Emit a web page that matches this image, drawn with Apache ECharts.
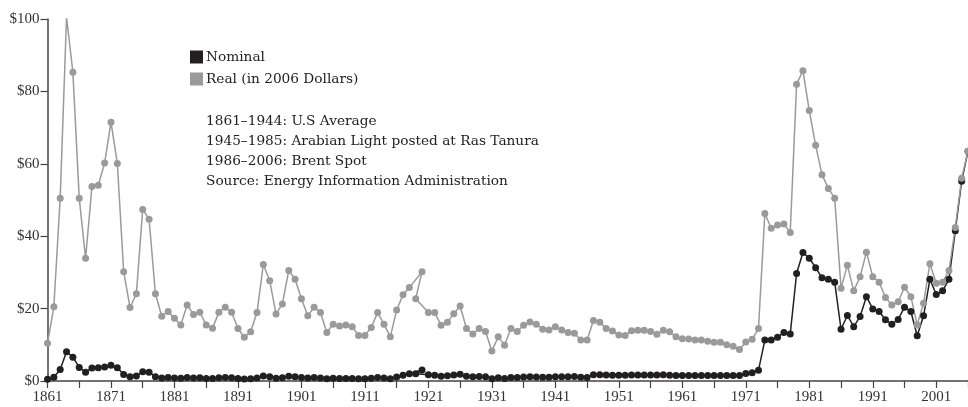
<!DOCTYPE html>
<html>
<head>
<meta charset="utf-8">
<script src="https://cdn.jsdelivr.net/npm/echarts@6/dist/echarts.min.js"></script>
<style>
html,body{margin:0;padding:0;background:#fff;}
#chart{width:968px;height:407px;}
</style>
</head>
<body>
<div id="chart"></div>
<script>
// Years in the order the points are drawn (the source plots 1920 before 1919)
var years = [
  1861,1862,1863,1864,1865,1866,1867,1868,1869,1870,
  1871,1872,1873,1874,1875,1876,1877,1878,1879,1880,
  1881,1882,1883,1884,1885,1886,1887,1888,1889,1890,
  1891,1892,1893,1894,1895,1896,1897,1898,1899,1900,
  1901,1902,1903,1904,1905,1906,1907,1908,1909,1910,
  1911,1912,1913,1914,1915,1916,1917,1918,1920,1919,
  1921,1922,1923,1924,1925,1926,1927,1928,1929,1930,
  1931,1932,1933,1934,1935,1936,1937,1938,1939,1940,
  1941,1942,1943,1944,1945,1946,1947,1948,1949,1950,
  1951,1952,1953,1954,1955,1956,1957,1958,1959,1960,
  1961,1962,1963,1964,1965,1966,1967,1968,1969,1970,
  1971,1972,1973,1974,1975,1976,1977,1978,1979,1980,
  1981,1982,1983,1984,1985,1986,1987,1988,1989,1990,
  1991,1992,1993,1994,1995,1996,1997,1998,1999,2000,
  2001,2002,2003,2004,2005,2006
];

var nominal = [
  0.49,1.05,3.15,8.06,6.59,3.74,2.41,3.62,3.64,3.86,
  4.34,3.64,1.83,1.17,1.35,2.56,2.42,1.19,0.86,0.95,
  0.86,0.78,1.00,0.84,0.88,0.71,0.67,0.88,0.94,0.87,
  0.67,0.56,0.64,0.84,1.36,1.18,0.79,0.91,1.29,1.19,
  0.96,0.80,0.94,0.86,0.62,0.73,0.72,0.72,0.70,0.61,
  0.61,0.74,0.95,0.81,0.64,1.10,1.56,1.98,3.07,2.01,
  1.73,1.61,1.34,1.43,1.68,1.88,1.30,1.17,1.27,1.19,
  0.65,0.87,0.67,1.00,0.97,1.09,1.18,1.13,1.02,1.02,
  1.14,1.19,1.20,1.21,1.05,0.95,1.70,1.75,1.65,1.60,
  1.60,1.60,1.65,1.65,1.65,1.65,1.65,1.70,1.60,1.55,
  1.55,1.55,1.55,1.55,1.55,1.55,1.55,1.55,1.55,1.55,
  2.10,2.30,3.00,11.3,11.3,12.1,13.4,13.0,29.7,35.5,
  33.9,31.3,28.5,28.1,27.3,14.3,18.1,15.0,17.8,23.3,
  19.9,19.2,16.9,15.7,17.0,20.4,19.2,12.5,18.0,28.1,
  23.9,24.9,28.1,41.5,55.2,63.5
];

var real = [
  10.4,20.5,50.5,100.5,85.3,50.5,33.9,53.7,54.1,60.2,
  71.5,60.1,30.2,20.3,24.1,47.4,44.7,24.1,17.9,19.2,
  17.3,15.5,21.0,18.4,19.0,15.5,14.6,19.0,20.4,19.0,
  14.5,12.1,13.6,18.9,32.2,27.7,18.5,21.3,30.5,28.1,
  22.7,18.0,20.4,18.9,13.4,15.7,15.2,15.5,15.0,12.6,
  12.6,14.8,18.9,15.7,12.2,19.6,23.8,25.8,30.2,22.7,
  18.9,18.9,15.4,16.2,18.6,20.7,14.5,13.0,14.5,13.7,
  8.3,12.2,9.9,14.5,13.7,15.4,16.3,15.7,14.3,14.1,
  15.0,14.1,13.4,13.2,11.3,11.3,16.7,16.2,14.5,13.8,
  12.7,12.6,13.9,14.0,14.0,13.7,12.9,14.0,13.6,12.2,
  11.7,11.6,11.3,11.3,11.0,10.7,10.7,10.0,9.6,8.7,
  10.8,11.5,14.5,46.3,42.2,43.1,43.4,41.0,82.0,85.7,
  74.7,65.1,57.0,53.2,50.5,25.6,32.0,24.9,28.8,35.6,
  28.8,27.3,23.1,21.0,21.9,25.9,23.3,15.5,21.5,32.4,
  27.0,27.3,30.5,42.4,56.0,63.5
];

var seriesNames = ['Nominal', 'Real (in 2006 Dollars)'];
var xTickYears = [1861,1866,1871,1876,1881,1886,1891,1896,1901,1906,1911,1916,1921,1926,1931,1936,1941,1946,1951,1956,1961,1966,1971,1976,1981,1986,1991,1996,2001,2006];
var xLabelYears = [1861,1871,1881,1891,1901,1911,1921,1931,1941,1951,1961,1971,1981,1991,2001];
var yTicks = [0,20,40,60,80,100];
var notes = [
  '1861\u20131944: U.S Average',
  '1945\u20131985: Arabian Light posted at Ras Tanura',
  '1986\u20132006: Brent Spot',
  'Source: Energy Information Administration'
];

function pairs(vals) {
  return years.map(function (y, i) { return [y, vals[i]]; });
}

var FONT = '"Liberation Serif", "DejaVu Serif", serif';
var TFONT = '"DejaVu Serif", serif';
var chart = echarts.init(document.getElementById('chart'), null, {renderer: 'canvas'});

var graphics = notes.map(function (t, i) {
  return {
    type: 'text',
    x: 206,
    y: 121.7 + i * 20,
    style: {
      text: t,
      font: '13.7px ' + TFONT,
      fill: '#222',
      textVerticalAlign: 'middle'
    }
  };
});

chart.setOption({
  animation: false,
  backgroundColor: '#fff',
  grid: {left: 47.5, top: 19, width: 922.3, height: 362, containLabel: false},
  legend: {
    data: seriesNames,
    orient: 'vertical',
    left: 190,
    top: 50,
    padding: 0,
    itemWidth: 13,
    itemHeight: 13,
    itemGap: 8,
    icon: 'rect',
    textStyle: {fontFamily: TFONT, fontSize: 13.7, color: '#222', padding: [0, 0, 0, -2]}
  },
  xAxis: {
    type: 'value',
    min: 1861,
    max: 2006,
    splitLine: {show: false},
    axisLine: {show: true, onZero: false, lineStyle: {color: '#444', width: 1.5}},
    axisTick: {show: true, length: 7, customValues: xTickYears, lineStyle: {color: '#444', width: 1.2}},
    axisLabel: {
      customValues: xLabelYears,
      margin: 9,
      fontFamily: FONT,
      fontSize: 15,
      color: '#333',
      formatter: function (v) { return String(v); }
    }
  },
  yAxis: {
    type: 'value',
    min: 0,
    max: 100,
    splitLine: {show: false},
    axisLine: {show: true, lineStyle: {color: '#444', width: 1.5}},
    axisTick: {show: true, length: 7, customValues: yTicks, lineStyle: {color: '#444', width: 1.2}},
    axisLabel: {
      customValues: yTicks,
      margin: 8,
      fontFamily: FONT,
      fontSize: 15,
      color: '#333',
      formatter: function (v) { return '$' + v; }
    }
  },
  series: [
    {
      name: seriesNames[0],
      type: 'line',
      data: pairs(nominal),
      symbol: 'circle',
      symbolSize: 7,
      showAllSymbol: true,
      color: '#231f20',
      lineStyle: {color: '#231f20', width: 1.5},
      itemStyle: {color: '#231f20'}
    },
    {
      name: seriesNames[1],
      type: 'line',
      data: pairs(real),
      symbol: 'circle',
      symbolSize: 7,
      showAllSymbol: true,
      color: '#9a9a9a',
      lineStyle: {color: '#9a9a9a', width: 1.5},
      itemStyle: {color: '#9a9a9a'}
    }
  ],
  graphic: graphics
});
</script>
</body>
</html>
